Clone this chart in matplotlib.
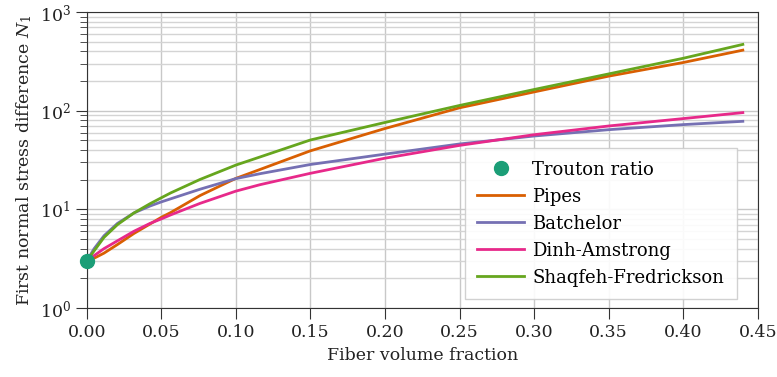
import matplotlib
matplotlib.use("Agg")
import matplotlib.pyplot as plt
import numpy as np

plt.rcParams['font.family'] = ['DejaVu Serif']
plt.rcParams['mathtext.fontset'] = 'dejavuserif'
plt.rcParams['font.size'] = 12.5

# values
phi = [0.0, 0.005, 0.0116, 0.0206, 0.0317, 0.0424, 0.05, 0.0564, 0.076,
       0.10, 0.1163, 0.15, 0.20, 0.25, 0.30, 0.35, 0.40, 0.44]
pipes = [3.0, 3.2, 3.6, 4.4, 5.7, 7.1, 8.3, 9.3, 13.8,
         20.6, 25.4, 39.2, 66, 107, 155, 224, 308, 411]
batchelor = [3.0, 4.0, 5.4, 7.2, 9.2, 10.8, 11.9, 12.8, 16.0,
             20.5, 23.0, 28.5, 36.3, 46.0, 55.4, 64.2, 72.3, 78.1]
dinh = [3.0, 3.4, 4.0, 4.8, 6.0, 7.2, 8.0, 8.8, 11.5,
        15.3, 17.8, 23.2, 33.0, 44.5, 57.1, 70.0, 83.2, 95.7]
shaqfeh = [3.0, 3.8, 5.2, 7.0, 9.2, 11.4, 13.1, 14.7, 20.1,
           28.1, 34.0, 50.5, 76.0, 113, 164, 236, 340, 470]
trouton_x = [0.0]
trouton_y = [3.0]

colors = {'trouton': '#1b9e77', 'pipes': '#d95f02', 'batchelor': '#7570b3',
          'dinh': '#e7298a', 'shaqfeh': '#66a61e'}

fig = plt.figure(figsize=(7.77, 3.77), dpi=100)
ax = fig.add_axes([0.1116, 0.183, 0.8636, 0.785])

lw = 2.0
ax.plot(phi, pipes, color=colors['pipes'], lw=lw, label='Pipes')
ax.plot(phi, batchelor, color=colors['batchelor'], lw=lw, label='Batchelor')
ax.plot(phi, dinh, color=colors['dinh'], lw=lw, label='Dinh-Amstrong')
ax.plot(phi, shaqfeh, color=colors['shaqfeh'], lw=lw, label='Shaqfeh-Fredrickson')
ax.plot(trouton_x, trouton_y, 'o', color=colors['trouton'], ms=10,
        clip_on=False, zorder=5, label='Trouton ratio')

ax.set_yscale('log')
ax.set_xlim(0, 0.45)
ax.set_ylim(1, 1000)
xt = np.arange(0, 0.46, 0.05)
ax.set_xticks(xt)
ax.set_xticklabels(['%.2f' % v for v in xt])

ax.grid(True, which='major', color='#c8c8c8', lw=1)
ax.grid(True, which='minor', axis='y', color='#d4d4d4', lw=1)
ax.set_axisbelow(True)
for s in ax.spines.values():
    s.set_color('#333333')
ax.tick_params(which='major', length=8, color='#333333', labelcolor='#222222')
ax.tick_params(which='minor', length=5, color='#333333')
ax.tick_params(axis='x', which='minor', length=0)

ax.set_xlabel('Fiber volume fraction', color='#222222')
ax.set_ylabel('First normal stress difference $N_1$', color='#222222')

h, l = ax.get_legend_handles_labels()
order = [4, 0, 1, 2, 3]
leg = ax.legend([h[i] for i in order], [l[i] for i in order],
                loc='lower right', bbox_to_anchor=(0.969, 0.029),
                borderaxespad=0, fancybox=False, edgecolor='#cccccc',
                framealpha=0.9, handlelength=2.6, handletextpad=0.45,
                labelspacing=0.5, borderpad=0.7, fontsize=13)
leg.get_frame().set_linewidth(1)

fig.savefig('out.png', dpi=100)
